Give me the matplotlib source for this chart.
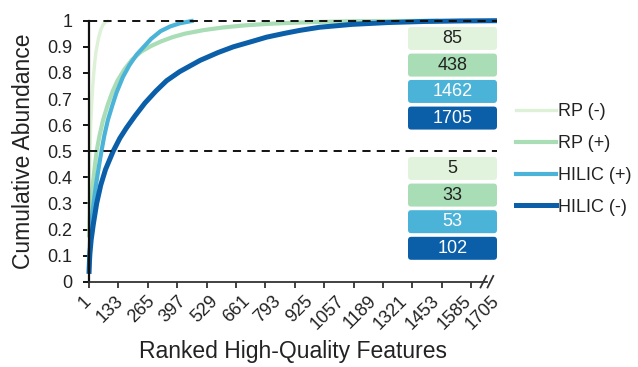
import numpy as np
import matplotlib
matplotlib.use("Agg")
import matplotlib.pyplot as plt
from matplotlib.lines import Line2D
from matplotlib.patches import FancyBboxPatch

plt.rcParams['font.family'] = ['Liberation Sans', 'DejaVu Sans']

# Cumulative abundance curves (rank of feature, cumulative fraction)
rp_neg_rank = [1, 3, 5, 8, 12, 16, 20, 25, 30, 40, 50, 60, 70, 85]
rp_neg_val = [0.22, 0.40, 0.50, 0.60, 0.68, 0.74, 0.79, 0.84, 0.88, 0.93, 0.965, 0.985, 0.995, 1.0]

rp_pos_rank = [1, 5, 10, 18, 25, 33, 45, 60, 80, 100, 120, 150, 180, 220, 260, 300,
               350, 400, 480, 560, 650, 750, 850, 950, 1100, 1300, 1462]
rp_pos_val = [0.17, 0.25, 0.31, 0.38, 0.44, 0.50, 0.56, 0.62, 0.68, 0.73, 0.77, 0.815,
              0.85, 0.882, 0.903, 0.92, 0.937, 0.95, 0.964, 0.974, 0.982, 0.988,
              0.992, 0.995, 0.998, 0.999, 1.0]

hilic_pos_rank = [1, 5, 10, 20, 30, 42, 53, 65, 80, 100, 116, 143, 170, 200, 230, 260,
                  300, 340, 380, 420, 438]
hilic_pos_val = [0.05, 0.15, 0.22, 0.30, 0.37, 0.44, 0.50, 0.56, 0.62, 0.68, 0.725,
                 0.785, 0.83, 0.87, 0.90, 0.93, 0.96, 0.978, 0.99, 0.997, 1.0]

hilic_neg_rank = [1, 3, 5, 10, 19, 33, 50, 70, 102, 130, 158, 193, 235, 280, 325, 380,
                  465, 540, 604, 680, 743, 820, 882, 965, 1100, 1250, 1400, 1550, 1705]
hilic_neg_val = [0.03, 0.08, 0.11, 0.16, 0.22, 0.30, 0.37, 0.43, 0.50, 0.55, 0.59, 0.635,
                 0.685, 0.73, 0.77, 0.805, 0.848, 0.878, 0.90, 0.92, 0.937, 0.952, 0.963,
                 0.975, 0.986, 0.993, 0.997, 0.999, 1.0]

series_names = ['RP (-)', 'RP (+)', 'HILIC (+)', 'HILIC (-)']
series_colors = ['#dcf1d6', '#a8ddb5', '#4bb3d8', '#0b5ea8']
series_widths = [2.4, 3.0, 3.0, 3.6]
series_data = [(rp_neg_rank, rp_neg_val), (rp_pos_rank, rp_pos_val),
               (hilic_pos_rank, hilic_pos_val), (hilic_neg_rank, hilic_neg_val)]

# Features needed to reach full / half of the total abundance
features_total = [85, 438, 1462, 1705]
features_half = [5, 33, 53, 102]
box_colors = ['#e2f3dd', '#a8ddb5', '#4bb3d8', '#0b5ea8']
box_text_colors = ['#222222', '#222222', 'white', 'white']

x_tick_labels = [1, 133, 265, 397, 529, 661, 793, 925, 1057, 1189, 1321, 1453, 1585, 1705]
y_ticks = [0, 0.1, 0.2, 0.3, 0.4, 0.5, 0.6, 0.7, 0.8, 0.9, 1]

fig = plt.figure(figsize=(6.38, 3.67), dpi=100)
ax = fig.add_axes([89 / 638, 85.3 / 367, 408 / 638, 261 / 367])

for (r, v), c, w in zip(series_data, series_colors, series_widths):
    ax.plot(r, v, color=c, lw=w, solid_capstyle='butt', solid_joinstyle='round',
            clip_on=False, zorder=2)

# Reference lines at 50 % and 100 %
for yv in (0.5, 1.0):
    ax.plot([1, 1705], [yv, yv], color='#111111', lw=1.4, dashes=(4.2, 3.2),
            clip_on=False, zorder=4)

ax.set_xlim(1, 1705)
ax.set_ylim(0, 1)

# Axes styling
for side in ('top', 'right'):
    ax.spines[side].set_visible(False)
ax.spines['left'].set_linewidth(1.6)
ax.spines['left'].set_color('#111111')
ax.spines['bottom'].set_linewidth(1.3)
ax.spines['bottom'].set_color('#333333')
ax.spines['bottom'].set_bounds(1, 1665)

ax.set_yticks(y_ticks)
ax.set_yticklabels([f'{t:g}' for t in y_ticks])
ax.tick_params(axis='y', direction='out', length=4, width=1.3, pad=8,
               labelsize=13, labelcolor='#222222')

ax.xaxis.remove_overlapping_locs = False
ax.set_xticks(np.linspace(1, 1597, 14))
ax.set_xticklabels([])
ax.tick_params(axis='x', which='major', direction='out', length=4, width=1.3, color='#333333')
ax.set_xticks(x_tick_labels, minor=True)
ax.set_xticklabels([str(t) for t in x_tick_labels], minor=True, rotation=45,
                   ha='right', va='center', rotation_mode='anchor')
ax.tick_params(axis='x', which='minor', length=0, pad=12, labelsize=13, labelcolor='#222222')

# Axis break marks
for dx in (-4, 3):
    x0 = 1665 + dx / 0.2394
    ax.plot([x0 - 12, x0 + 12], [-0.022, 0.022], color='#333333', lw=1.3,
            clip_on=False, zorder=5)

ax.set_ylabel('Cumulative Abundance', fontsize=16.5, color='#222222', labelpad=9)
ax.set_xlabel('Ranked High-Quality Features', fontsize=16.5, color='#222222', labelpad=5)

# Value boxes
aspect = 408 / 261
box_x0, box_w = 319 / 408, 89 / 408
box_h = 23 / 261
upper_tops = [0.976, 0.874, 0.773, 0.671]
lower_tops = [0.478, 0.376, 0.274, 0.172]
for tops, values in ((upper_tops, features_total), (lower_tops, features_half)):
    for top, val, fc, tc in zip(tops, values, box_colors, box_text_colors):
        box = FancyBboxPatch((box_x0, top - box_h), box_w, box_h,
                             boxstyle='round,pad=0,rounding_size=0.008',
                             mutation_aspect=aspect, transform=ax.transAxes,
                             facecolor=fc, edgecolor='none', zorder=6, clip_on=False)
        ax.add_patch(box)
        ax.text(box_x0 + box_w / 2, top - box_h / 2, str(val), transform=ax.transAxes,
                ha='center', va='center', fontsize=13, color=tc, zorder=7)

handles = [Line2D([0], [0], color=c, lw=w) for c, w in zip(series_colors, series_widths)]
leg = fig.legend(handles, series_names, loc='center left',
                 bbox_to_anchor=(516 / 638, 1 - 159.5 / 367), frameon=False,
                 fontsize=13, handlelength=2.2, handletextpad=0.15,
                 labelspacing=0.82, borderpad=0, borderaxespad=0)
for t in leg.get_texts():
    t.set_color('#222222')

fig.savefig('out.png', dpi=100)
